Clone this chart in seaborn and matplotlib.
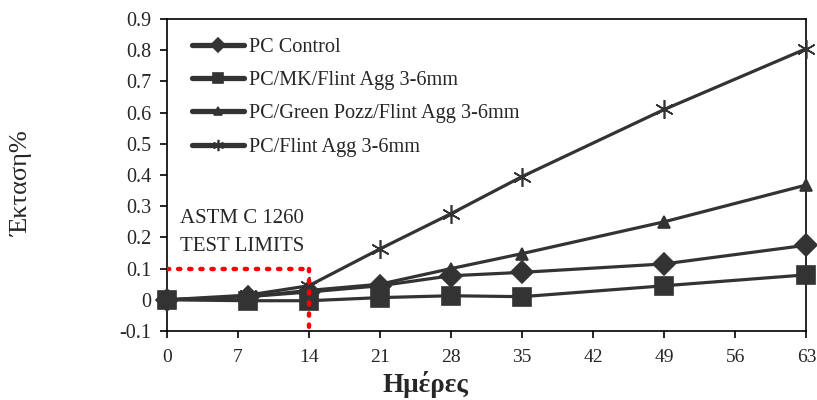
import matplotlib
matplotlib.use("Agg")
import matplotlib.pyplot as plt
import seaborn as sns
import pandas as pd
from matplotlib.ticker import FuncFormatter

sns.set_style("ticks")
plt.rcParams['font.family'] = ['Liberation Serif', 'DejaVu Serif']

days = [0, 8, 14, 21, 28, 35, 49, 63]
pc_control = [0, 0.01, 0.025, 0.045, 0.077, 0.088, 0.115, 0.175]
pc_mk = [0, -0.003, -0.003, 0.007, 0.013, 0.01, 0.045, 0.08]
pc_green = [0, 0.01, 0.03, 0.05, 0.10, 0.148, 0.25, 0.368]
pc_flint = [0, 0.015, 0.045, 0.163, 0.276, 0.395, 0.61, 0.805]

labels = ["PC Control", "PC/MK/Flint Agg 3-6mm",
          "PC/Green Pozz/Flint Agg 3-6mm", "PC/Flint Agg 3-6mm"]
series = [pc_control, pc_mk, pc_green, pc_flint]
markers = ["D", "s", "^", (6, 2, 0)]
msizes = [11.5, 13, 8.5, 13.5]

col = "#333333"
fig, ax = plt.subplots(figsize=(8.17, 4), dpi=100)
fig.subplots_adjust(left=0.204, right=0.987, top=0.9525, bottom=0.1725)

for lab, vals, m, ms in zip(labels, series, markers, msizes):
    df = pd.DataFrame({"day": days, "val": vals})
    sns.lineplot(data=df, x="day", y="val", ax=ax, color=col, lw=2.3,
                 marker=m, markersize=ms, markeredgecolor=col,
                 markerfacecolor=col, markeredgewidth=1.2, label=lab,
                 clip_on=False, zorder=4)

# ASTM limits
ax.plot([0, 14], [0.1, 0.1], color="red", ls=(0, (0.5, 2.0)), lw=3.2,
        dash_capstyle="round", zorder=5)
ax.plot([14, 14], [0.1, -0.1], color="red", ls=(0, (0.5, 2.0)), lw=3.2,
        dash_capstyle="round", zorder=5, clip_on=False)
ax.text(1.3, 0.26, "ASTM C 1260", fontsize=15, va="center")
ax.text(1.3, 0.17, "TEST LIMITS", fontsize=15, va="center")

ax.set_xlim(0, 63)
ax.set_ylim(-0.1, 0.9)
ax.set_xticks(range(0, 64, 7))
ax.set_yticks([i / 10 for i in range(-1, 10)])
ax.yaxis.set_major_formatter(FuncFormatter(lambda v, p: "0" if abs(v) < 1e-9 else f"{v:.1f}"))
ax.tick_params(labelsize=14.5, length=5, width=1.2, color="black")
ax.tick_params(axis="x", pad=8, labelsize=14)
ax.tick_params(axis="y", pad=6)
for s in ax.spines.values():
    s.set_visible(True)
    s.set_color("black")
    s.set_linewidth(1.2)

ax.set_xlabel("Ημέρες", fontsize=19.5, fontweight="bold", va="top")
ax.xaxis.set_label_coords(0.404, -0.128)
ax.set_ylabel("Έκταση%", fontsize=19, va="center")
ax.yaxis.set_label_coords(-0.227, 0.474)

leg = ax.legend(loc="upper left", frameon=False, fontsize=14.6,
                handlelength=2.6, labelspacing=0.7, handletextpad=0.25,
                bbox_to_anchor=(0.02, 0.98), markerscale=0.6, borderaxespad=0.2)
for h in leg.get_lines():
    h.set_linewidth(3.8)

fig.savefig("out.png", dpi=100)
